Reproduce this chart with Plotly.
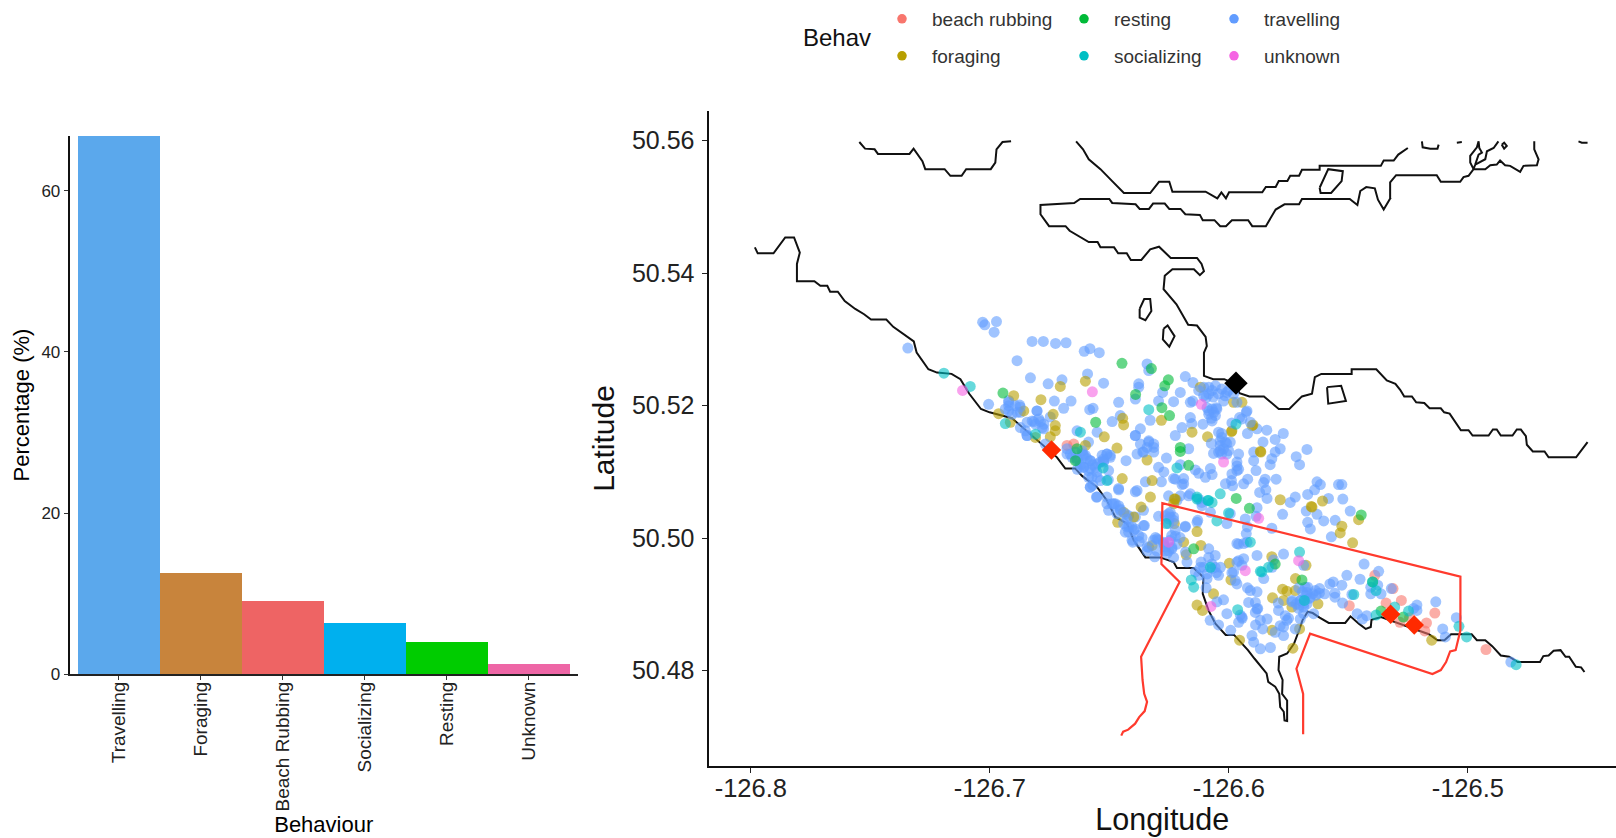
import plotly.graph_objects as go

categories = ["Travelling", "Foraging", "Beach Rubbing", "Socializing", "Resting", "Unknown"]
percentages = [66.8, 12.6, 9.07, 6.4, 3.96, 1.3]
bar_colors = ["#5BA8EC", "#C8843C", "#EE6464", "#00B0EE", "#00CC00", "#EE66A6"]

travelling_a = [
(-126.7030,50.5326),(-126.7021,50.5322),(-126.6972,50.5327),(-126.6982,50.5311),(-126.7343,50.5287),(-126.6823,50.5297),
(-126.6776,50.5297),(-126.6725,50.5294),(-126.6681,50.5295),(-126.6605,50.5282),(-126.6581,50.5286),(-126.6542,50.5280),
(-126.6886,50.5268),(-126.6830,50.5242),(-126.6756,50.5233),(-126.6698,50.5239),(-126.6591,50.5248),(-126.6524,50.5234),
(-126.6377,50.5233),(-126.6377,50.5228),(-126.6342,50.5263),(-126.6335,50.5253),(-126.6277,50.5220),(-126.6294,50.5207),
(-126.6391,50.5210),(-126.6461,50.5205),(-126.7005,50.5202),(-126.6921,50.5208),(-126.6875,50.5201),(-126.6921,50.5192),
(-126.6872,50.5190),(-126.6730,50.5207),(-126.6660,50.5207),(-126.6691,50.5196),(-126.6803,50.5192),(-126.6582,50.5194),
(-126.6568,50.5196),(-126.6747,50.5183),(-126.6816,50.5176),(-126.6788,50.5176),(-126.6775,50.5165),(-126.6844,50.5155),
(-126.6551,50.5160),(-126.6488,50.5176),(-126.6454,50.5185),(-126.6370,50.5165),(-126.6391,50.5155),(-126.6329,50.5178),
(-126.6335,50.5147),(-126.6314,50.5142),(-126.6342,50.5137),(-126.6384,50.5127),(-126.6314,50.5130),(-126.6360,50.5130),
(-126.6430,50.5117),(-126.6261,50.5121),(-126.6294,50.5107),(-126.6272,50.5100),(-126.6231,50.5090),(-126.6189,50.5082),
(-126.6349,50.5085),(-126.6384,50.5072),(-126.6282,50.5085),(-126.6461,50.5073),(-126.6551,50.5062),(-126.6580,50.5077),
(-126.6510,50.5127),(-126.6530,50.5125),(-126.6496,50.5122),(-126.6524,50.5115),(-126.6587,50.5145),(-126.6635,50.5162),
(-126.6656,50.5122),(-126.6635,50.5120),(-126.6607,50.5125),(-126.6580,50.5117),(-126.6607,50.5107),(-126.6573,50.5092),
(-126.6552,50.5100),(-126.6587,50.5102),(-126.6503,50.5102),(-126.6621,50.5112),(-126.6677,50.5127),(-126.6510,50.5052),
(-126.6475,50.5052),(-126.6503,50.5042),(-126.6454,50.5042),(-126.6419,50.5034),(-126.6357,50.5042),(-126.6391,50.5032),
(-126.6426,50.5017),(-126.6398,50.5012),(-126.6357,50.5019),(-126.6433,50.5009),(-126.6402,50.4994),(-126.6335,50.4986),
(-126.6252,50.5064),(-126.6217,50.5057),(-126.6168,50.5064),(-126.6113,50.5054),
(-126.6182,50.5244),(-126.6150,50.5235),(-126.6203,50.5220),(-126.6231,50.5206),(-126.6151,50.5207),(-126.6084,50.5228),
(-126.6056,50.5230),(-126.6029,50.5225),(-126.6105,50.5215),(-126.6065,50.5213),(-126.6022,50.5207),(-126.6070,50.5195),
(-126.6084,50.5187),(-126.6056,50.5185),(-126.6070,50.5177),(-126.5927,50.5190),(-126.5955,50.5182),(-126.5882,50.5165),
(-126.5841,50.5163),(-126.5772,50.5158),(-126.6161,50.5182),(-126.6155,50.5173),(-126.6196,50.5167),(-126.6224,50.5155),
(-126.6108,50.5172),(-126.6043,50.5160),(-126.6036,50.5147),(-126.5994,50.5145),(-126.6168,50.5135),(-126.6064,50.5128),
(-126.6036,50.5132),(-126.6008,50.5127),(-126.5959,50.5127),(-126.5857,50.5145),(-126.5806,50.5149),(-126.5785,50.5135),
(-126.5806,50.5130),(-126.5820,50.5120),(-126.5827,50.5111),(-126.5896,50.5130),(-126.5896,50.5117),(-126.5966,50.5109),
(-126.5886,50.5102),(-126.5673,50.5134),(-126.5718,50.5123),(-126.5704,50.5111),(-126.6203,50.5111),(-126.6077,50.5105),
(-126.6140,50.5103),(-126.6126,50.5098),(-126.6098,50.5092),(-126.6070,50.5096),(-126.5966,50.5102),(-126.5987,50.5097),
(-126.6189,50.5090),(-126.6224,50.5089),(-126.6196,50.5081),(-126.5989,50.5087),(-126.6014,50.5082),(-126.5984,50.5079),
(-126.5921,50.5089),(-126.5938,50.5082),(-126.5848,50.5089),(-126.5854,50.5084),(-126.5802,50.5089),(-126.5845,50.5073),
(-126.5871,50.5069),(-126.5840,50.5060),(-126.6161,50.5067),(-126.6126,50.5059),(-126.6203,50.5064),(-126.6112,50.5049),
(-126.5722,50.5062),(-126.5743,50.5054),(-126.5670,50.5066),(-126.5631,50.5085),(-126.5617,50.5081),(-126.5641,50.5073),
(-126.5541,50.5081),(-126.5527,50.5081),(-126.5523,50.5059),(-126.5583,50.5060),(-126.5676,50.5041),(-126.5631,50.5036),
(-126.5603,50.5026),(-126.5670,50.5024),(-126.5659,50.5014),(-126.5492,50.5041),(-126.5775,50.5036),(-126.5882,50.5046),
(-126.5820,50.5015),(-126.5571,50.5002),(-126.5555,50.5027),(-126.5994,50.5037),(-126.6008,50.5022),(-126.5931,50.5029),
(-126.5886,50.5033),(-126.5922,50.5017),(-126.5927,50.5007),(-126.5966,50.4992),(-126.5938,50.4992),(-126.6077,50.5039),
(-126.6133,50.5024),(-126.6182,50.5017),
]
travelling_b = [
(-126.6245,50.5039),(-126.6231,50.5032),(-126.6252,50.5022),(-126.6182,50.5018),(-126.6130,50.5027),(-126.6353,50.5019),
(-126.6294,50.5033),(-126.6363,50.5001),(-126.6300,50.4999),(-126.6273,50.4994),(-126.6239,50.5004),(-126.6204,50.5001),
(-126.6238,50.4986),(-126.6266,50.4981),(-126.6342,50.4981),(-126.6231,50.4971),(-126.6175,50.4964),(-126.6084,50.4984),
(-126.6057,50.4974),(-126.6084,50.4971),(-126.6071,50.4961),(-126.6119,50.4956),(-126.6126,50.4944),(-126.6091,50.4939),
(-126.6070,50.4954),(-126.6035,50.4956),(-126.6043,50.4944),(-126.5959,50.4991),(-126.5924,50.4994),(-126.5959,50.4966),
(-126.5945,50.4959),(-126.5980,50.4949),(-126.5966,50.4931),(-126.5882,50.4974),(-126.5771,50.4976),(-126.5813,50.4967),
(-126.5854,50.4939),(-126.5819,50.4956),(-126.5687,50.4959),(-126.5910,50.4921),(-126.5882,50.4919),(-126.5889,50.4903),
(-126.5917,50.4903),(-126.5889,50.4888),(-126.6022,50.4907),(-126.6050,50.4904),(-126.6008,50.4886),(-126.5952,50.4884),
(-126.5959,50.4873),(-126.5992,50.4861),(-126.6078,50.4876),(-126.6043,50.4869),(-126.5888,50.4869),(-126.5868,50.4876),
(-126.5840,50.4878),(-126.5792,50.4891),(-126.5764,50.4883),(-126.5785,50.4868),(-126.5771,50.4853),(-126.5806,50.4858),
(-126.5903,50.4853),(-126.5896,50.4843),(-126.5868,50.4833),(-126.5826,50.4835),(-126.5718,50.4901),(-126.5687,50.4896),
(-126.5673,50.4918),(-126.5638,50.4921),(-126.5736,50.4904),(-126.5687,50.4886),(-126.5645,50.4886),(-126.5701,50.4878),
(-126.5722,50.4863),
(-126.5577,50.4931),(-126.5620,50.4924),(-126.5599,50.4916),(-126.5556,50.4911),(-126.5527,50.4929),(-126.5506,50.4944),
(-126.5670,50.4926),(-126.5635,50.4914),(-126.5663,50.4909),(-126.5485,50.4915),(-126.5451,50.4938),(-126.5434,50.4961),
(-126.5373,50.4950),(-126.5406,50.4916),(-126.5377,50.4929),(-126.5320,50.4924),(-126.5213,50.4899),(-126.5227,50.4894),
(-126.5134,50.4904),(-126.5463,50.4886),(-126.5441,50.4878),(-126.5423,50.4883),(-126.5048,50.4880),(-126.5105,50.4863),
(-126.5094,50.4851),(-126.4820,50.4813),(-126.5524,50.4902),(-126.5706,50.4899),(-126.5735,50.4906),(-126.5563,50.4934),
(-126.6921,50.5200),(-126.6873,50.5198),(-126.6907,50.5187),(-126.6802,50.5192),(-126.6844,50.5175),(-126.6809,50.5172),
(-126.6781,50.5167),(-126.6844,50.5155),(-126.6768,50.5142),(-126.6663,50.5127),(-126.6635,50.5117),(-126.6600,50.5125),
(-126.6579,50.5117),(-126.6607,50.5107),(-126.6551,50.5092),(-126.6579,50.5077),(-126.6554,50.5062),(-126.6510,50.5127),
(-126.6538,50.5115),(-126.6391,50.5155),(-126.6370,50.5142),(-126.6335,50.5145),(-126.6314,50.5137),(-126.6356,50.5130),
(-126.6391,50.5070),(-126.6461,50.5075),(-126.6489,50.5052),(-126.6468,50.5037),(-126.6433,50.5037),(-126.6440,50.5022),
(-126.6405,50.5017),(-126.6377,50.5004),(-126.6405,50.4997),(-126.6342,50.4987),(-126.6315,50.4997),(-126.6301,50.4981),
(-126.6245,50.5032),
(-126.6105,50.5228),(-126.6084,50.5218),(-126.6070,50.5223),(-126.6043,50.5218),(-126.6015,50.5215),(-126.6001,50.5223),
(-126.5980,50.5218),(-126.6126,50.5223),(-126.6161,50.5205),(-126.6084,50.5192),(-126.6063,50.5190),(-126.6091,50.5197),
(-126.6050,50.5195),(-126.6036,50.5140),(-126.6022,50.5135),(-126.6043,50.5130),(-126.6015,50.5145),(-126.6029,50.5152),
(-126.6001,50.5132),(-126.5924,50.5192),(-126.5945,50.5180),(-126.5910,50.5175),(-126.5966,50.5115),(-126.5959,50.5104),
(-126.6921,50.5205),(-126.6893,50.5200),(-126.6935,50.5195),(-126.6886,50.5190),(-126.6823,50.5177),(-126.6795,50.5180),
(-126.6774,50.5172),(-126.6872,50.5167),(-126.6851,50.5162),(-126.6677,50.5135),(-126.6642,50.5130),(-126.6614,50.5132),
(-126.6593,50.5120),(-126.6621,50.5110),(-126.6558,50.5107),(-126.6587,50.5092),(-126.6551,50.5112),(-126.6579,50.5105),
(-126.6523,50.5117),(-126.6496,50.5125),(-126.6537,50.5087),(-126.6510,50.5062),(-126.6482,50.5052),(-126.6454,50.5044),
(-126.6426,50.5029),(-126.6391,50.5014),(-126.6419,50.5009),(-126.6294,50.4997),(-126.6252,50.5037),(-126.6231,50.5027),
(-126.6273,50.4992),(-126.6245,50.4997),(-126.6238,50.4984),(-126.6259,50.4977),
(-126.6266,50.5034),(-126.6252,50.5029),(-126.6224,50.5012),(-126.6217,50.4991),(-126.6252,50.4981),(-126.6307,50.5001),
(-126.6105,50.4956),(-126.6091,50.4946),(-126.6140,50.4949),(-126.6057,50.4956),(-126.5966,50.4964),(-126.5973,50.4936),
(-126.5938,50.4969),(-126.5673,50.4901),(-126.5701,50.4906),(-126.5659,50.4911),(-126.5708,50.4894),(-126.5680,50.4926),
(-126.5771,50.4866),(-126.5757,50.4876),(-126.5882,50.4893),(-126.5945,50.4881),
(-126.5692,50.4919),(-126.5677,50.4914),(-126.5699,50.4906),(-126.5649,50.4916),(-126.5406,50.4926),(-126.5363,50.4916),
(-126.5213,50.4891),
(-126.6095,50.5212),(-126.6052,50.5197),(-126.6009,50.5220),(-126.5966,50.5205),(-126.6073,50.5181),(-126.6030,50.5158),
(-126.6073,50.5143),(-126.6009,50.5143),(-126.6030,50.5127),(-126.5987,50.5174),(-126.5922,50.5158),(-126.6612,50.5127),
(-126.6569,50.5111),(-126.6634,50.5104),(-126.6526,50.5119),(-126.6504,50.5088),(-126.6569,50.5080),(-126.6461,50.5049),
(-126.6418,50.5018),(-126.6375,50.4995),(-126.6310,50.4972),(-126.6224,50.5003),(-126.6181,50.4979),(-126.6267,50.4987),
(-126.6116,50.4964),(-126.6052,50.4948),(-126.6095,50.4925),(-126.5987,50.4948),(-126.5922,50.4925),(-126.5879,50.4894),
(-126.5944,50.4879),(-126.5858,50.4863),(-126.5750,50.4879),(-126.5685,50.4902),(-126.5621,50.4917),(-126.5556,50.4917),
(-126.5707,50.4925),(-126.5793,50.4902),
]
foraging = [
(-126.6900,50.5215),(-126.6963,50.5188),(-126.6914,50.5175),(-126.6858,50.5192),(-126.6786,50.5209),(-126.6705,50.5229),
(-126.6600,50.5237),(-126.6726,50.5170),(-126.6726,50.5162),(-126.6747,50.5153),(-126.6735,50.5187),(-126.6809,50.5152),
(-126.6521,50.5153),(-126.6600,50.5140),(-126.6468,50.5136),(-126.6444,50.5181),(-126.6440,50.5171),(-126.6282,50.5178),
(-126.6342,50.5118),(-126.6446,50.5090),(-126.6321,50.5087),(-126.6328,50.5062),(-126.6367,50.5047),(-126.6228,50.5059),
(-126.6089,50.5153),(-126.6154,50.5160),(-126.5987,50.5162),(-126.5903,50.5170),(-126.5866,50.5130),(-126.6119,50.5228),
(-126.5980,50.5205),(-126.5945,50.5205),(-126.6465,50.5024),(-126.6440,50.5039),(-126.6398,50.5032),(-126.6321,50.4989),
(-126.6228,50.5022),(-126.6133,50.5010),(-126.6189,50.4994),(-126.6178,50.4975),(-126.6117,50.4989),(-126.5998,50.4962),
(-126.6224,50.5059),(-126.5785,50.5058),(-126.5655,50.5048),(-126.5608,50.5056),(-126.5527,50.5018),(-126.5534,50.5008),
(-126.5482,50.4993),(-126.5457,50.5028),(-126.5868,50.5131),(-126.5989,50.5161),(-126.5899,50.5171),(-126.5991,50.4937),
(-126.6064,50.4916),(-126.6133,50.4899),(-126.6110,50.4891),(-126.5817,50.4910),(-126.5775,50.4923),(-126.5757,50.4920),
(-126.5771,50.4906),(-126.5721,50.4939),(-126.5820,50.4972),(-126.5955,50.4846),(-126.5732,50.4834),(-126.5704,50.4863),
(-126.5819,50.4861),(-126.5736,50.4896),(-126.5722,50.4921),(-126.6231,50.5052),(-126.5652,50.5047),(-126.5627,50.4901),
(-126.5151,50.4846),(-126.5677,50.4959),
]
resting = [
(-126.6447,50.5264),(-126.6324,50.5256),(-126.6253,50.5239),(-126.6268,50.5230),(-126.6390,50.5217),(-126.6280,50.5197),
(-126.6248,50.5185),(-126.6557,50.5175),(-126.6945,50.5219),(-126.6203,50.5137),(-126.6203,50.5131),(-126.6168,50.5110),
(-126.5969,50.5060),(-126.5914,50.5045),(-126.5446,50.5035),(-126.6147,50.4984),(-126.5694,50.4937),(-126.5806,50.4961),
(-126.5363,50.4890),(-126.5270,50.4881),(-126.5398,50.4934),(-126.6642,50.5117),(-126.6635,50.5135),
]
socializing = [
(-126.7192,50.5249),(-126.7082,50.5229),(-126.6935,50.5173),(-126.6809,50.5157),(-126.6621,50.5160),(-126.6335,50.5194),
(-126.6526,50.5106),(-126.6510,50.5087),(-126.6217,50.5106),(-126.6036,50.5067),(-126.6133,50.5059),(-126.6085,50.5057),
(-126.6050,50.5026),(-126.6001,50.5038),(-126.6262,50.5022),(-126.6077,50.4956),(-126.5862,50.4949),(-126.5910,50.4994),
(-126.6133,50.5062),(-126.6088,50.5057),(-126.6070,50.5054),(-126.5970,50.5172),(-126.5704,50.4979),(-126.5868,50.4950),
(-126.5834,50.4956),(-126.6157,50.4937),(-126.6147,50.4926),(-126.5963,50.4892),(-126.5684,50.4906),(-126.5399,50.4934),
(-126.5384,50.4921),(-126.5306,50.4896),(-126.5248,50.4890),(-126.5037,50.4867),(-126.5005,50.4851),(-126.4798,50.4809),
(-126.5477,50.4915),(-126.5384,50.4884),
]
beach_rubbing = [
(-126.5496,50.4898),(-126.5389,50.4944),(-126.5342,50.4902),(-126.5313,50.4924),(-126.5278,50.4906),(-126.5284,50.4873),
(-126.5173,50.4872),(-126.5138,50.4887),(-126.5180,50.4860),(-126.5244,50.4880),(-126.4924,50.4832),(-126.6649,50.5142),
(-126.6677,50.5140),
]
unknown = [
(-126.7114,50.5223),(-126.6571,50.5221),(-126.6115,50.5202),(-126.6022,50.5115),(-126.5931,50.4951),(-126.5875,50.5030),
(-126.6252,50.4994),(-126.6075,50.4897),(-126.5708,50.4966),
]
red_sites = [(-126.6742,50.5133),(-126.5323,50.4885),(-126.5224,50.4869)]
black_site = [(-126.5970,50.5234)]

boundary = [
(-126.6450,50.4702),(-126.6442,50.4708),(-126.6421,50.4711),(-126.6392,50.4720),(-126.6375,50.4730),(-126.6352,50.4739),
(-126.6342,50.4753),(-126.6354,50.4765),(-126.6361,50.4786),(-126.6367,50.4821),(-126.6206,50.4934),(-126.6282,50.4961),
(-126.6278,50.5053),(-126.5031,50.4942),(-126.5031,50.4861),(-126.5041,50.4846),(-126.5051,50.4831),(-126.5074,50.4829),
(-126.5091,50.4813),(-126.5113,50.4801),(-126.5148,50.4795),(-126.5660,50.4856),(-126.5717,50.4803),(-126.5689,50.4765),
(-126.5689,50.4704),
]

coast_nw = [
(-126.7546,50.5598),(-126.7522,50.5588),(-126.7482,50.5587),(-126.7468,50.5580),(-126.7336,50.5580),(-126.7319,50.5588),
(-126.7282,50.5569),(-126.7270,50.5557),(-126.7189,50.5557),(-126.7165,50.5547),(-126.7118,50.5547),(-126.7099,50.5557),
(-126.6996,50.5557),(-126.6977,50.5567),(-126.6972,50.5587),(-126.6947,50.5598),(-126.6911,50.5599),
]
coast_north = [
(-126.6639,50.5599),(-126.6610,50.5587),(-126.6586,50.5572),(-126.6537,50.5557),(-126.6488,50.5539),(-126.6439,50.5521),
(-126.6329,50.5521),(-126.6292,50.5538),(-126.6249,50.5538),(-126.6236,50.5523),(-126.6097,50.5523),(-126.6048,50.5513),
(-126.6031,50.5522),(-126.6012,50.5513),(-126.5999,50.5522),(-126.5860,50.5522),(-126.5845,50.5530),(-126.5804,50.5530),
(-126.5791,50.5539),(-126.5755,50.5539),(-126.5743,50.5547),(-126.5706,50.5547),(-126.5694,50.5556),(-126.5620,50.5556),
(-126.5620,50.5562),(-126.5364,50.5562),(-126.5352,50.5570),(-126.5310,50.5570),(-126.5291,50.5579),(-126.5251,50.5589),
]
coast_inlet = [
(-126.4722,50.5599),(-126.4722,50.5587),(-126.4704,50.5572),(-126.4711,50.5563),(-126.4767,50.5562),(-126.4781,50.5553),
(-126.4823,50.5562),(-126.4844,50.5563),(-126.4865,50.5570),(-126.4879,50.5564),(-126.4906,50.5563),(-126.4927,50.5557),
(-126.4976,50.5557),(-126.4997,50.5547),(-126.5018,50.5545),(-126.5032,50.5538),(-126.5113,50.5538),(-126.5130,50.5548),
(-126.5300,50.5548),(-126.5325,50.5537),(-126.5325,50.5512),(-126.5323,50.5514),(-126.5352,50.5496),(-126.5376,50.5511),
(-126.5389,50.5528),(-126.5425,50.5530),(-126.5450,50.5524),(-126.5462,50.5503),(-126.5494,50.5512),(-126.5694,50.5512),
(-126.5706,50.5504),(-126.5767,50.5504),(-126.5804,50.5496),(-126.5845,50.5471),(-126.5902,50.5471),(-126.5919,50.5480),
(-126.5987,50.5480),(-126.6012,50.5471),(-126.6036,50.5471),(-126.6060,50.5480),(-126.6109,50.5480),(-126.6121,50.5488),
(-126.6182,50.5489),(-126.6202,50.5497),(-126.6249,50.5497),(-126.6268,50.5505),(-126.6317,50.5505),(-126.6334,50.5497),
(-126.6373,50.5497),(-126.6390,50.5504),(-126.6488,50.5506),(-126.6500,50.5512),(-126.6622,50.5512),(-126.6647,50.5506),
(-126.6788,50.5503),(-126.6788,50.5489),(-126.6752,50.5471),(-126.6683,50.5471),(-126.6666,50.5464),(-126.6622,50.5455),
(-126.6586,50.5447),(-126.6549,50.5447),(-126.6537,50.5439),(-126.6480,50.5439),(-126.6463,50.5430),(-126.6427,50.5430),
(-126.6410,50.5420),(-126.6366,50.5420),(-126.6329,50.5436),(-126.6292,50.5440),(-126.6243,50.5423),(-126.6133,50.5423),
(-126.6114,50.5414),(-126.6104,50.5403),(-126.6121,50.5397),(-126.6146,50.5406),(-126.6236,50.5406),(-126.6268,50.5396),
(-126.6273,50.5376),(-126.6219,50.5353),(-126.6170,50.5322),(-126.6133,50.5321),(-126.6097,50.5304),(-126.6092,50.5290),
(-126.6104,50.5280),(-126.6104,50.5245),(-126.6065,50.5240),(-126.6019,50.5240),(-126.5975,50.5233),(-126.5955,50.5219),
(-126.5914,50.5214),(-126.5853,50.5214),(-126.5791,50.5195),(-126.5747,50.5195),(-126.5694,50.5214),(-126.5652,50.5218),
(-126.5640,50.5243),(-126.5613,50.5248),(-126.5486,50.5248),(-126.5486,50.5255),(-126.5383,50.5255),(-126.5339,50.5238),
(-126.5303,50.5233),(-126.5283,50.5224),(-126.5266,50.5214),(-126.5234,50.5214),(-126.5216,50.5205),(-126.5182,50.5204),
(-126.5160,50.5196),(-126.5113,50.5196),(-126.5099,50.5190),(-126.5076,50.5188),(-126.5029,50.5163),(-126.4997,50.5163),
(-126.4980,50.5155),(-126.4913,50.5155),(-126.4895,50.5164),(-126.4879,50.5164),(-126.4862,50.5155),(-126.4813,50.5155),
(-126.4795,50.5164),(-126.4778,50.5164),(-126.4757,50.5154),(-126.4753,50.5141),(-126.4728,50.5131),(-126.4679,50.5131),
(-126.4662,50.5122),(-126.4547,50.5122),(-126.4499,50.5145),
]
coast_south = [
(-126.7983,50.5439),(-126.7971,50.5430),(-126.7905,50.5430),(-126.7856,50.5454),(-126.7819,50.5454),(-126.7795,50.5431),
(-126.7807,50.5414),(-126.7807,50.5388),(-126.7734,50.5388),(-126.7709,50.5381),(-126.7680,50.5381),(-126.7668,50.5372),
(-126.7636,50.5372),(-126.7607,50.5358),(-126.7563,50.5346),(-126.7526,50.5338),(-126.7497,50.5330),(-126.7433,50.5330),
(-126.7404,50.5319),(-126.7367,50.5310),(-126.7318,50.5297),(-126.7306,50.5280),(-126.7257,50.5255),(-126.7221,50.5250),
(-126.7160,50.5248),(-126.7123,50.5240),(-126.7086,50.5218),(-126.7037,50.5195),(-126.7001,50.5190),(-126.6907,50.5181),
(-126.6872,50.5170),(-126.6830,50.5157),(-126.6775,50.5140),(-126.6719,50.5122),(-126.6684,50.5105),(-126.6642,50.5105),
(-126.6614,50.5094),(-126.6551,50.5077),(-126.6510,50.5057),(-126.6475,50.5032),(-126.6426,50.5022),(-126.6398,50.4997),
(-126.6349,50.4971),(-126.6287,50.4971),(-126.6231,50.4964),(-126.6217,50.4955),(-126.6147,50.4955),(-126.6106,50.4941),
(-126.6109,50.4916),(-126.6085,50.4891),(-126.6056,50.4871),(-126.6013,50.4854),(-126.5978,50.4854),(-126.5920,50.4831),
(-126.5892,50.4818),(-126.5842,50.4796),(-126.5835,50.4783),(-126.5806,50.4776),(-126.5789,50.4765),(-126.5785,50.4745),
(-126.5770,50.4738),(-126.5767,50.4725),(-126.5756,50.4724),(-126.5756,50.4755),(-126.5777,50.4765),(-126.5775,50.4786),
(-126.5792,50.4801),(-126.5789,50.4821),(-126.5756,50.4826),(-126.5727,50.4841),(-126.5706,50.4861),(-126.5692,50.4876),
(-126.5670,50.4889),(-126.5649,50.4887),(-126.5620,50.4880),(-126.5582,50.4872),(-126.5513,50.4872),(-126.5491,50.4882),
(-126.5456,50.4871),(-126.5427,50.4863),(-126.5406,50.4866),(-126.5403,50.4877),(-126.5363,50.4881),(-126.5163,50.4855),
(-126.5127,50.4846),(-126.5098,50.4846),(-126.5070,50.4855),(-126.4984,50.4855),(-126.4962,50.4846),(-126.4927,50.4846),
(-126.4898,50.4837),(-126.4862,50.4823),(-126.4827,50.4821),(-126.4791,50.4813),(-126.4698,50.4813),(-126.4684,50.4822),
(-126.4662,50.4823),(-126.4641,50.4830),(-126.4612,50.4831),(-126.4591,50.4821),(-126.4576,50.4821),(-126.4548,50.4806),
(-126.4526,50.4805),(-126.4512,50.4798),
]
coast_bits = [
[(-126.6373,50.5346),(-126.6354,50.5361),(-126.6329,50.5361),(-126.6324,50.5343),(-126.6349,50.5329),(-126.6373,50.5333),(-126.6373,50.5346)],
[(-126.6273,50.5316),(-126.6256,50.5321),(-126.6227,50.5305),(-126.6249,50.5289),(-126.6276,50.5300),(-126.6273,50.5316)],
[(-126.5620,50.5529),(-126.5584,50.5557),(-126.5523,50.5554),(-126.5528,50.5539),(-126.5572,50.5521),(-126.5616,50.5521),(-126.5620,50.5529)],
[(-126.5589,50.5228),(-126.5530,50.5230),(-126.5510,50.5207),(-126.5584,50.5203),(-126.5589,50.5228)],
[(-126.5192,50.5599),(-126.5189,50.5590),(-126.5157,50.5588),(-126.5127,50.5588),(-126.5122,50.5594)],
[(-126.4976,50.5557),(-126.4990,50.5567),(-126.4990,50.5577),(-126.4962,50.5590),(-126.4955,50.5599),(-126.4952,50.5589),(-126.4941,50.5582),(-126.4955,50.5579),(-126.4969,50.5564),(-126.4976,50.5557)],
[(-126.4969,50.5564),(-126.4927,50.5572),(-126.4920,50.5584),(-126.4892,50.5589),(-126.4872,50.5599)],
[(-126.5046,50.5597),(-126.5025,50.5598)],
[(-126.4537,50.5599),(-126.4523,50.5597),(-126.4499,50.5597)],
[(-126.4858,50.5594),(-126.4848,50.5597),(-126.4837,50.5592),(-126.4848,50.5588),(-126.4858,50.5594)],
]

behaviour_names = ["beach rubbing", "foraging", "resting", "socializing", "travelling", "unknown"]
behaviour_colors = ["#F8766D", "#B79F00", "#00BA38", "#00BFC4", "#619CFF", "#F564E3"]
legend_x = [872, 872, 1054, 1054, 1204, 1204]
legend_y = [18, 56, 18, 56, 18, 56]
color_of = dict(zip(behaviour_names, behaviour_colors))
# painted in this order, so that colours mix the way they do in the picture
draw_order = [("travelling", travelling_a), ("foraging", foraging), ("beach rubbing", beach_rubbing),
              ("travelling", travelling_b), ("resting", resting), ("socializing", socializing), ("unknown", unknown)]

W, H = 1616, 838
def px(x): return x / W
def py(y): return 1 - y / H
def rgba(c, a): return f"rgba({int(c[1:3],16)},{int(c[3:5],16)},{int(c[5:7],16)},{a})"

fig = go.Figure()
fig.add_trace(go.Bar(x=categories, y=percentages, width=1, marker=dict(color=bar_colors, line=dict(width=0)),
                     xaxis="x", yaxis="y", showlegend=False))

segments = [coast_nw, coast_north, coast_inlet, coast_south] + coast_bits
clon, clat = [], []
for seg in segments:
    clon += [p[0] for p in seg] + [None]
    clat += [p[1] for p in seg] + [None]
fig.add_trace(go.Scatter(x=clon, y=clat, mode="lines", line=dict(color="#111111", width=2), connectgaps=False,
                         xaxis="x2", yaxis="y2", showlegend=False, name="coastline"))

for name, pts in draw_order:
    fig.add_trace(go.Scatter(x=[p[0] for p in pts], y=[p[1] for p in pts], mode="markers", name=name,
                             marker=dict(color=rgba(color_of[name], 0.6), size=11, line=dict(width=0)),
                             xaxis="x2", yaxis="y2", showlegend=False))

fig.add_trace(go.Scatter(x=[p[0] for p in boundary], y=[p[1] for p in boundary], mode="lines",
                         line=dict(color="#FF3A2D", width=2.2), xaxis="x2", yaxis="y2", showlegend=False, name="boundary"))
fig.add_trace(go.Scatter(x=[p[0] for p in red_sites], y=[p[1] for p in red_sites], mode="markers",
                         marker=dict(symbol="diamond", color="#FF2A00", size=15, line=dict(width=0)),
                         xaxis="x2", yaxis="y2", showlegend=False, name="red sites"))
fig.add_trace(go.Scatter(x=[p[0] for p in black_site], y=[p[1] for p in black_site], mode="markers",
                         marker=dict(symbol="diamond", color="#000000", size=18, line=dict(width=0)),
                         xaxis="x2", yaxis="y2", showlegend=False, name="black site"))

legend_layout = {}
for i, name in enumerate(behaviour_names):
    key = "legend" if i == 0 else f"legend{i+1}"
    fig.add_trace(go.Scatter(x=[None], y=[None], mode="markers", name=name, legend=key,
                             marker=dict(color=behaviour_colors[i], size=9.5, line=dict(width=0)),
                             xaxis="x2", yaxis="y2", showlegend=True))
    legend_layout[key] = dict(x=px(legend_x[i]), y=py(legend_y[i]), xanchor="left", yanchor="middle", itemwidth=50,
                              bgcolor="rgba(0,0,0,0)", borderwidth=0,
                              font=dict(family="Liberation Sans", size=19, color="#333333"))

fig.update_layout(
    width=W, height=H, margin=dict(l=0, r=0, t=0, b=0), autosize=False,
    paper_bgcolor="white", plot_bgcolor="white", bargap=0,
    font=dict(family="Liberation Sans", color="#000000"),
    xaxis=dict(domain=[px(69.5), px(578)], anchor="y", type="category", categoryorder="array", categoryarray=categories,
               range=[-0.6, 5.6], automargin=False, showgrid=False, zeroline=False, showline=True, linecolor="#222222", linewidth=1.6,
               ticks="outside", ticklen=4, tickcolor="#333333", tickwidth=1.2, tickangle=-90, ticklabelstandoff=-6,
               tickfont=dict(size=19, color="#222222"),
               title=dict(text="Behaviour", font=dict(size=22, color="#000000"), standoff=6)),
    yaxis=dict(domain=[py(674), py(135)], anchor="x", range=[0, 66.8], tickvals=[0, 20, 40, 60], automargin=False,
               showgrid=False, zeroline=False, showline=True, linecolor="#111111", linewidth=1.6,
               ticks="outside", ticklen=4, tickcolor="#333333", tickwidth=1.2,
               tickfont=dict(size=17, color="#222222"),
               title=dict(text="Percentage (%)", font=dict(size=22, color="#000000"), standoff=6)),
    xaxis2=dict(domain=[px(708.5), 1], anchor="y2", range=[-126.8177, -126.438], tickvals=[-126.8, -126.7, -126.6, -126.5],
                ticktext=["-126.8", "-126.7", "-126.6", "-126.5"], automargin=False, showgrid=False, zeroline=False, showline=True,
                linecolor="#111111", linewidth=2, ticks="outside", ticklen=5, tickcolor="#222222", tickwidth=1.4,
                ticklabelstandoff=-7, tickfont=dict(size=25.5, color="#222222"),
                title=dict(text="Longitude", font=dict(size=30.5, color="#111111"), standoff=6)),
    yaxis2=dict(domain=[py(766), py(110)], anchor="x2", range=[50.4656, 50.5645], tickvals=[50.48, 50.50, 50.52, 50.54, 50.56],
                ticktext=["50.48", "50.50", "50.52", "50.54", "50.56"], automargin=False, showgrid=False, zeroline=False, showline=True,
                linecolor="#111111", linewidth=2, ticks="outside", ticklen=5, tickcolor="#222222", tickwidth=1.4,
                ticklabelstandoff=2, tickfont=dict(size=25, color="#222222"),
                title=dict(text="Latitude", font=dict(size=30, color="#111111"), standoff=8)),
    annotations=[dict(text="Behav", x=px(800.5), y=py(37), xref="paper", yref="paper", xanchor="left", yanchor="middle",
                      showarrow=False, font=dict(size=24, color="#111111"))],
    **legend_layout,
)
# the page body's default 8px margin would push the figure off the window
fig.write_html("out.html", config={"displayModeBar": False}, post_script="document.body.style.margin='0';")
